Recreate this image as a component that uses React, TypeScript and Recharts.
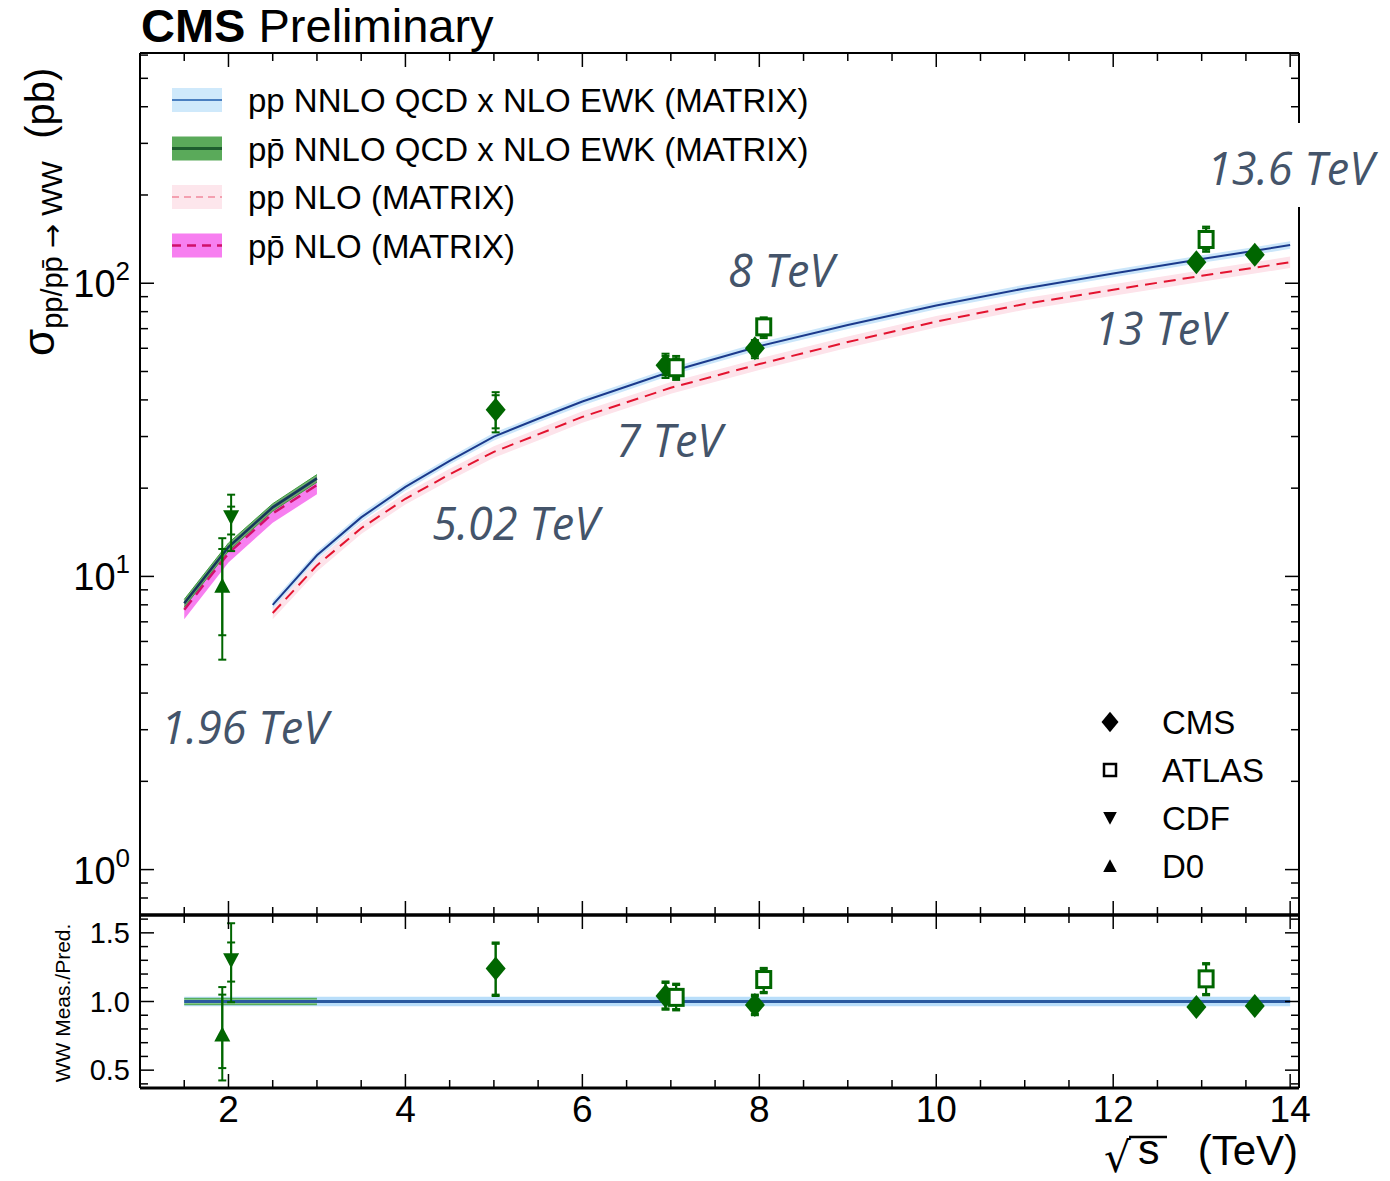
import React from 'react';
import { ComposedChart, Line, Area, Scatter, XAxis, YAxis, ErrorBar } from 'recharts';

// ---------------- data ----------------
// pp theory (MATRIX), sqrt(s) in TeV, cross section in pb
const ppEnergies = [2.5, 3, 3.5, 4, 4.5, 5, 5.5, 6, 7, 8, 9, 10, 11, 12, 13, 13.6, 14];
const ppNNLO = [8.0, 11.8, 15.9, 20.2, 24.8, 30.0, 34.5, 39.5, 50, 61, 72, 84, 96, 108, 121, 129, 135];
const ppNNLOLow = [7.75, 11.45, 15.4, 19.6, 24.1, 29.1, 33.5, 38.3, 48.5, 59.2, 69.8, 81.5, 93.1, 104.8, 117.4, 125.1, 131];
const ppNNLOHigh = [8.25, 12.15, 16.4, 20.8, 25.5, 30.9, 35.5, 40.7, 51.5, 62.8, 74.2, 86.5, 98.9, 111.2, 124.6, 132.9, 139];
const ppNLO = [7.5, 10.9, 14.6, 18.4, 22.3, 26.6, 30.5, 35, 44, 53, 63, 74, 85, 95, 106, 113, 118];
const ppNLOLow = [7.15, 10.4, 13.95, 17.6, 21.3, 25.4, 29.1, 33.4, 42, 50.6, 60.2, 70.7, 81.2, 90.7, 101.2, 107.9, 112.7];
const ppNLOHigh = [7.85, 11.4, 15.25, 19.2, 23.3, 27.8, 31.9, 36.6, 46, 55.4, 65.8, 77.3, 88.8, 99.3, 110.8, 118.1, 123.3];

// ppbar theory
const ppbarEnergies = [1.5, 2, 2.5, 3];
const ppbarNNLO = [8.1, 12.6, 17.2, 21.6];
const ppbarNNLOLow = [7.85, 12.2, 16.7, 20.95];
const ppbarNNLOHigh = [8.35, 13.0, 17.7, 22.25];
const ppbarNLO = [7.7, 12.0, 16.4, 20.5];
const ppbarNLOLow = [7.15, 11.15, 15.25, 19.05];
const ppbarNLOHigh = [8.25, 12.85, 17.55, 21.95];

// ratio panel theory bands
const ratioPpEnergies = [1.5, 14];
const ratioPpCentral = [1, 1];
const ratioPpLow = [0.965, 0.965];
const ratioPpHigh = [1.035, 1.035];
const ratioPpbarEnergies = [1.5, 3];
const ratioPpbarLow = [0.977, 0.977];
const ratioPpbarHigh = [1.023, 1.023];

// measurements (plotted positions slightly offset as in the figure)
const cmsEnergies = [5.02, 6.94, 7.95, 12.94, 13.6];
const cmsXsec = [37, 52.5, 60, 118, 125];
const cmsTotLow = [31, 47.5, 55.5, 115.5, 122.5];
const cmsTotHigh = [42.5, 57.5, 64, 120.5, 127.5];
const cmsStatLow = [32, 48.5, 56.5, 116, 123];
const cmsStatHigh = [41.5, 56.5, 63, 120, 127];
const cmsRatio = [1.24, 1.04, 0.975, 0.96, 0.967];
const cmsRatioTotLow = [1.04, 0.94, 0.9, 0.945, 0.952];
const cmsRatioTotHigh = [1.43, 1.146, 1.05, 0.975, 0.982];
const cmsRatioStatLow = [1.05, 0.95, 0.91, 0.95, 0.956];
const cmsRatioStatHigh = [1.42, 1.135, 1.04, 0.97, 0.978];

const atlasEnergies = [7.06, 8.05, 13.05];
const atlasXsec = [51.5, 71, 141];
const atlasTotLow = [46.8, 65, 128];
const atlasTotHigh = [56.5, 76.5, 156];
const atlasStatLow = [47.5, 66, 130];
const atlasStatHigh = [55.5, 75.5, 154];
const atlasRatio = [1.03, 1.16, 1.165];
const atlasRatioTotLow = [0.935, 1.06, 1.045];
const atlasRatioTotHigh = [1.13, 1.245, 1.28];
const atlasRatioStatLow = [0.945, 1.07, 1.055];
const atlasRatioStatHigh = [1.12, 1.235, 1.27];

const cdfEnergies = [2.03];
const cdfXsec = [15.9];
const cdfTotLow = [12.2];
const cdfTotHigh = [19.0];
const cdfStatLow = [13.9];
const cdfStatHigh = [17.3];
const cdfRatio = [1.3];
const cdfRatioTotLow = [0.995];
const cdfRatioTotHigh = [1.57];
const cdfRatioStatLow = [1.145];
const cdfRatioStatHigh = [1.43];

const d0Energies = [1.93];
const d0Xsec = [9.3];
const d0TotLow = [5.2];
const d0TotHigh = [13.5];
const d0StatLow = [6.3];
const d0StatHigh = [12.4];
const d0Ratio = [0.76];
const d0RatioTotLow = [0.425];
const d0RatioTotHigh = [1.105];
const d0RatioStatLow = [0.515];
const d0RatioStatHigh = [1.05];

// ticks / labels
const xMajor = [2, 4, 6, 8, 10, 12, 14];
const xTickLabels = ['2', '4', '6', '8', '10', '12', '14'];
const xMinor = [1, 1.5, 2.5, 3, 3.5, 4.5, 5, 5.5, 6.5, 7, 7.5, 8.5, 9, 9.5, 10.5, 11, 11.5, 12.5, 13, 13.5];
const yMainMajor = [1, 10, 100];
const yMainExponents = ['0', '1', '2'];
const yMainMinor = [0.8, 0.9, 2, 3, 4, 5, 6, 7, 8, 9, 20, 30, 40, 50, 60, 70, 80, 90, 200, 300, 400, 500, 600];
const yRatioMajor = [0.5, 1.0, 1.5];
const yRatioLabels = ['0.5', '1.0', '1.5'];
const yRatioMinor = [0.4, 0.6, 0.7, 0.8, 0.9, 1.1, 1.2, 1.3, 1.4, 1.6];

const theoryLegend = [
  { label: 'pp NNLO QCD x NLO EWK (MATRIX)', band: '#cfe9fb', line: '#4a7fc0', dash: undefined, lw: 2 },
  { label: 'pp\u0304 NNLO QCD x NLO EWK (MATRIX)', band: '#5aaa5a', line: '#1d5e2e', dash: undefined, lw: 3 },
  { label: 'pp NLO (MATRIX)', band: '#fde6ec', line: '#f4a0b0', dash: '7,5', lw: 2 },
  { label: 'pp\u0304 NLO (MATRIX)', band: '#f77ff0', line: '#d0106a', dash: '9,6', lw: 2.5 },
];
const expLegend = [
  { label: 'CMS', marker: 'diamond' },
  { label: 'ATLAS', marker: 'square' },
  { label: 'CDF', marker: 'tdown' },
  { label: 'D0', marker: 'tup' },
];
const energyLabels = [
  { text: '1.96 TeV', x: 161, y: 744 },
  { text: '5.02 TeV', x: 432, y: 540 },
  { text: '7 TeV', x: 616, y: 457 },
  { text: '8 TeV', x: 728, y: 287 },
  { text: '13 TeV', x: 1094, y: 345 },
  { text: '13.6 TeV', x: 1207, y: 185, boxed: true },
];

// ---------------- styling ----------------
const W = 1390;
const H = 1181;
const GREEN = '#006600';
const FONT = "'Liberation Sans', Arial, Helvetica, sans-serif";
const LABEL_COLOR = '#44546a';

// ---------------- helpers ----------------
const bandData = (xs: number[], lo: number[], hi: number[]) => xs.map((x, i) => ({ x, band: [lo[i], hi[i]] }));
const lineData = (xs: number[], ys: number[]) => xs.map((x, i) => ({ x, y: ys[i] }));
const pointData = (xs: number[], ys: number[], tl: number[], th: number[], sl: number[], sh: number[]) =>
  xs.map((x, i) => ({ x, y: ys[i], tot: [ys[i] - tl[i], th[i] - ys[i]], stat: [ys[i] - sl[i], sh[i] - ys[i]] }));

const markerPath = (kind: string, cx: number, cy: number, s: number) => {
  if (kind === 'diamond') return `M${cx},${cy - 12 * s}L${cx + 10 * s},${cy}L${cx},${cy + 12 * s}L${cx - 10 * s},${cy}Z`;
  if (kind === 'tdown') return `M${cx - 8 * s},${cy - 7 * s}L${cx + 8 * s},${cy - 7 * s}L${cx},${cy + 8 * s}Z`;
  if (kind === 'tup') return `M${cx - 8 * s},${cy + 7 * s}L${cx + 8 * s},${cy + 7 * s}L${cx},${cy - 8 * s}Z`;
  return '';
};

const makeShape = (kind: string, color: string) => (props: any) => {
  const { cx, cy } = props;
  if (cx == null || cy == null) return <g />;
  if (kind === 'square') {
    return <rect x={cx - 7} y={cy - 8} width={14} height={16} fill="#fff" stroke={color} strokeWidth={3} />;
  }
  return <path d={markerPath(kind, cx, cy, 1)} fill={color} />;
};

const LogTick = (props: any) => {
  const { x, y, payload } = props;
  const idx = yMainMajor.indexOf(payload.value);
  return (
    <text x={x} y={y + 14} textAnchor="end" fontSize={38} fontFamily={FONT} fill="#000">
      10<tspan dy={-17} fontSize={26}>{yMainExponents[idx]}</tspan>
    </text>
  );
};

const RatioTick = (props: any) => {
  const { x, y, payload } = props;
  const idx = yRatioMajor.findIndex((v) => Math.abs(v - payload.value) < 1e-6);
  return (
    <text x={x} y={y + 10} textAnchor="end" fontSize={29} fontFamily={FONT} fill="#000">
      {yRatioLabels[idx]}
    </text>
  );
};

const XTick = (props: any) => {
  const { x, y, payload } = props;
  const idx = xMajor.indexOf(payload.value);
  return (
    <text x={x} y={y + 34} textAnchor="middle" fontSize={37} fontFamily={FONT} fill="#000">
      {xTickLabels[idx]}
    </text>
  );
};

const EmptyTick = () => <g />;

const tickStroke = { stroke: '#000', strokeWidth: 1.5 };

const xTickAxes = (prefix: string, withBottomLine: boolean, topLineWidth: number, bottomLineWidth: number) => [
  <XAxis key={prefix + 'bM'} xAxisId={prefix + 'bM'} type="number" dataKey="x" domain={[1, 14.1]} allowDataOverflow
    ticks={xMajor} interval={0} orientation="bottom" mirror height={1} tick={EmptyTick} tickSize={14} tickLine={tickStroke}
    axisLine={withBottomLine ? { stroke: '#000', strokeWidth: bottomLineWidth } : false} />,
  <XAxis key={prefix + 'bm'} xAxisId={prefix + 'bm'} type="number" dataKey="x" domain={[1, 14.1]} allowDataOverflow
    ticks={xMinor} interval={0} orientation="bottom" mirror height={1} tick={EmptyTick} tickSize={7} tickLine={tickStroke} axisLine={false} />,
  <XAxis key={prefix + 'tM'} xAxisId={prefix + 'tM'} type="number" dataKey="x" domain={[1, 14.1]} allowDataOverflow
    ticks={xMajor} interval={0} orientation="top" mirror height={1} tick={EmptyTick} tickSize={14} tickLine={tickStroke}
    axisLine={{ stroke: '#000', strokeWidth: topLineWidth }} />,
  <XAxis key={prefix + 'tm'} xAxisId={prefix + 'tm'} type="number" dataKey="x" domain={[1, 14.1]} allowDataOverflow
    ticks={xMinor} interval={0} orientation="top" mirror height={1} tick={EmptyTick} tickSize={7} tickLine={tickStroke} axisLine={false} />,
];

const yTickAxes = (prefix: string, domain: number[], major: number[], minor: number[], log: boolean) => {
  const common: any = { type: 'number', domain, allowDataOverflow: true, interval: 0, mirror: true, width: 1, tick: EmptyTick };
  if (log) common.scale = 'log';
  return [
    <YAxis key={prefix + 'lM'} yAxisId={prefix + 'lM'} {...common} orientation="left" ticks={major} tickSize={14} tickLine={tickStroke} axisLine={false} />,
    <YAxis key={prefix + 'lm'} yAxisId={prefix + 'lm'} {...common} orientation="left" ticks={minor} tickSize={7} tickLine={tickStroke} axisLine={false} />,
    <YAxis key={prefix + 'rM'} yAxisId={prefix + 'rM'} {...common} orientation="right" ticks={major} tickSize={14} tickLine={tickStroke}
      axisLine={{ stroke: '#000', strokeWidth: 2 }} />,
    <YAxis key={prefix + 'rm'} yAxisId={prefix + 'rm'} {...common} orientation="right" ticks={minor} tickSize={7} tickLine={tickStroke} axisLine={false} />,
  ];
};

// ---------------- derived series ----------------
const ppNNLOBand = bandData(ppEnergies, ppNNLOLow, ppNNLOHigh);
const ppNLOBand = bandData(ppEnergies, ppNLOLow, ppNLOHigh);
const ppbarNNLOBand = bandData(ppbarEnergies, ppbarNNLOLow, ppbarNNLOHigh);
const ppbarNLOBand = bandData(ppbarEnergies, ppbarNLOLow, ppbarNLOHigh);
const ppNNLOLine = lineData(ppEnergies, ppNNLO);
const ppNLOLine = lineData(ppEnergies, ppNLO);
const ppbarNNLOLine = lineData(ppbarEnergies, ppbarNNLO);
const ppbarNLOLine = lineData(ppbarEnergies, ppbarNLO);

const cmsPts = pointData(cmsEnergies, cmsXsec, cmsTotLow, cmsTotHigh, cmsStatLow, cmsStatHigh);
const atlasPts = pointData(atlasEnergies, atlasXsec, atlasTotLow, atlasTotHigh, atlasStatLow, atlasStatHigh);
const cdfPts = pointData(cdfEnergies, cdfXsec, cdfTotLow, cdfTotHigh, cdfStatLow, cdfStatHigh);
const d0Pts = pointData(d0Energies, d0Xsec, d0TotLow, d0TotHigh, d0StatLow, d0StatHigh);

const cmsRatioPts = pointData(cmsEnergies, cmsRatio, cmsRatioTotLow, cmsRatioTotHigh, cmsRatioStatLow, cmsRatioStatHigh);
const atlasRatioPts = pointData(atlasEnergies, atlasRatio, atlasRatioTotLow, atlasRatioTotHigh, atlasRatioStatLow, atlasRatioStatHigh);
const cdfRatioPts = pointData(cdfEnergies, cdfRatio, cdfRatioTotLow, cdfRatioTotHigh, cdfRatioStatLow, cdfRatioStatHigh);
const d0RatioPts = pointData(d0Energies, d0Ratio, d0RatioTotLow, d0RatioTotHigh, d0RatioStatLow, d0RatioStatHigh);

const ratioPpBand = bandData(ratioPpEnergies, ratioPpLow, ratioPpHigh);
const ratioPpbarBand = bandData(ratioPpbarEnergies, ratioPpbarLow, ratioPpbarHigh);
const ratioPpLine = lineData(ratioPpEnergies, ratioPpCentral);

const renderPoints = (pts: any[], kind: string, yId: string) => (
  <Scatter key={kind + yId} xAxisId="x" yAxisId={yId} data={pts} dataKey="y" shape={makeShape(kind, GREEN)} isAnimationActive={false}>
    <ErrorBar dataKey="tot" direction="y" width={4} stroke={GREEN} strokeWidth={2} />
    <ErrorBar dataKey="stat" direction="y" width={4} stroke={GREEN} strokeWidth={2} />
  </Scatter>
);

export default function App() {
  return (
    <div style={{ position: 'absolute', left: 0, top: 0, width: W, height: H, background: '#fff', overflow: 'hidden' }}>
      {/* main panel */}
      <div style={{ position: 'absolute', left: 0, top: 0 }}>
        <ComposedChart width={W} height={H} margin={{ top: 53, right: 91, bottom: 266, left: 0 }}>
          <XAxis xAxisId="x" type="number" dataKey="x" domain={[1, 14.1]} allowDataOverflow hide />
          {xTickAxes('m', true, 2, 3)}
          <YAxis yAxisId="y" type="number" scale="log" domain={[0.7, 610]} allowDataOverflow ticks={yMainMajor} interval={0}
            width={140} tickLine={false} tickSize={0} tickMargin={10} tick={LogTick} axisLine={{ stroke: '#000', strokeWidth: 2 }} />
          {yTickAxes('my', [0.7, 610], yMainMajor, yMainMinor, true)}

          <Area xAxisId="x" yAxisId="y" data={ppNLOBand} dataKey="band" type="linear" stroke="none" fill="#fde3ea" fillOpacity={1} isAnimationActive={false} />
          <Area xAxisId="x" yAxisId="y" data={ppNNLOBand} dataKey="band" type="linear" stroke="none" fill="#cbe6fa" fillOpacity={1} isAnimationActive={false} />
          <Line xAxisId="x" yAxisId="y" data={ppNLOLine} dataKey="y" type="linear" stroke="#e3132f" strokeWidth={2} strokeDasharray="12 7" dot={false} isAnimationActive={false} />
          <Line xAxisId="x" yAxisId="y" data={ppNNLOLine} dataKey="y" type="linear" stroke="#1b3a8c" strokeWidth={2} dot={false} isAnimationActive={false} />

          <Area xAxisId="x" yAxisId="y" data={ppbarNLOBand} dataKey="band" type="linear" stroke="none" fill="#f77ff0" fillOpacity={1} isAnimationActive={false} />
          <Area xAxisId="x" yAxisId="y" data={ppbarNNLOBand} dataKey="band" type="linear" stroke="#3f9a3f" strokeWidth={1} fill="#5aaa5a" fillOpacity={0.85} isAnimationActive={false} />
          <Line xAxisId="x" yAxisId="y" data={ppbarNNLOLine} dataKey="y" type="linear" stroke="#14375a" strokeWidth={2.5} dot={false} isAnimationActive={false} />
          <Line xAxisId="x" yAxisId="y" data={ppbarNLOLine} dataKey="y" type="linear" stroke="#d0106a" strokeWidth={2.5} strokeDasharray="12 7" dot={false} isAnimationActive={false} />

          {renderPoints(d0Pts, 'tup', 'y')}
          {renderPoints(cdfPts, 'tdown', 'y')}
          {renderPoints(cmsPts, 'diamond', 'y')}
          {renderPoints(atlasPts, 'square', 'y')}
        </ComposedChart>
      </div>

      {/* ratio panel */}
      <div style={{ position: 'absolute', left: 0, top: 0 }}>
        <ComposedChart width={W} height={H} margin={{ top: 915, right: 91, bottom: 0, left: 0 }}>
          <XAxis xAxisId="x" type="number" dataKey="x" domain={[1, 14.1]} allowDataOverflow ticks={xMajor} interval={0}
            height={93} tickLine={false} tickSize={0} tickMargin={0} tick={XTick} axisLine={{ stroke: '#000', strokeWidth: 3 }} />
          {xTickAxes('r', false, 3, 3)}
          <YAxis yAxisId="y" type="number" domain={[0.37, 1.63]} allowDataOverflow ticks={yRatioMajor} interval={0}
            width={140} tickLine={false} tickSize={0} tickMargin={10} tick={RatioTick} axisLine={{ stroke: '#000', strokeWidth: 2 }} />
          {yTickAxes('ry', [0.37, 1.63], yRatioMajor, yRatioMinor, false)}

          <Area xAxisId="x" yAxisId="y" data={ratioPpBand} dataKey="band" type="linear" stroke="none" fill="#b9defa" fillOpacity={1} isAnimationActive={false} />
          <Area xAxisId="x" yAxisId="y" data={ratioPpbarBand} dataKey="band" type="linear" stroke="#4fa84f" strokeWidth={1} fill="#7cc47c" fillOpacity={0.9} isAnimationActive={false} />
          <Line xAxisId="x" yAxisId="y" data={ratioPpLine} dataKey="y" type="linear" stroke="#2a5aa0" strokeWidth={3} dot={false} isAnimationActive={false} />

          {renderPoints(d0RatioPts, 'tup', 'y')}
          {renderPoints(cdfRatioPts, 'tdown', 'y')}
          {renderPoints(cmsRatioPts, 'diamond', 'y')}
          {renderPoints(atlasRatioPts, 'square', 'y')}
        </ComposedChart>
      </div>

      {/* texts, legends, annotations */}
      <svg width={W} height={H} style={{ position: 'absolute', left: 0, top: 0, pointerEvents: 'none' }}>
        <text x={141} y={42} fontFamily={FONT} fontSize={47} fill="#000">
          <tspan fontWeight="bold">CMS</tspan> Preliminary
        </text>

        {/* y-axis titles */}
        <text transform="translate(54,356) rotate(-90)" fontFamily={FONT} fill="#000" fontSize={44}>
          σ<tspan fontSize={29} dy={8}>pp/pp̄ </tspan><tspan fontSize={29} fontFamily="'DejaVu Sans', sans-serif">→</tspan><tspan fontSize={29}> WW</tspan><tspan dy={-8} fontSize={40}>{'\u00a0\u00a0(pb)'}</tspan>
        </text>
        <text transform="translate(70,1003) rotate(-90)" fontFamily={FONT} fill="#000" fontSize={21} textAnchor="middle">
          WW Meas./Pred.
        </text>

        {/* x-axis title */}
        <text x={1104} y={1172} fontFamily="'DejaVu Sans', sans-serif" fontSize={42} fill="#000">√</text>
        <line x1={1129} x2={1167} y1={1137} y2={1137} stroke="#000" strokeWidth={2.5} />
        <text x={1138} y={1164} fontFamily={FONT} fontSize={43} fill="#000">s</text>
        <text x={1298} y={1165} textAnchor="end" fontFamily={FONT} fontSize={42} fill="#000">(TeV)</text>

        {/* theory legend */}
        {theoryLegend.map((e, i) => {
          const cy = 100 + i * 48.5;
          return (
            <g key={e.label}>
              <rect x={172} y={cy - 12} width={50} height={24} fill={e.band} />
              <line x1={172} x2={222} y1={cy} y2={cy} stroke={e.line} strokeWidth={e.lw} strokeDasharray={e.dash} />
              <text x={248} y={cy + 12} fontFamily={FONT} fontSize={33} fill="#000">{e.label}</text>
            </g>
          );
        })}

        {/* experiment legend */}
        {expLegend.map((e, i) => {
          const cy = 722 + i * 48;
          return (
            <g key={e.label}>
              {e.marker === 'square' ? (
                <rect x={1104} y={cy - 6} width={12} height={12} fill="#fff" stroke="#000" strokeWidth={2.5} />
              ) : (
                <path d={markerPath(e.marker, 1110, cy, 0.85)} fill="#000" />
              )}
              <text x={1162} y={cy + 12} fontFamily={FONT} fontSize={33} fill="#000">{e.label}</text>
            </g>
          );
        })}

        {/* energy annotations */}
        {energyLabels.map((e) => (
          <g key={e.text}>
            {e.boxed ? <rect x={e.x - 4} y={e.y - 62} width={180} height={84} fill="#fff" /> : null}
            <text x={e.x} y={e.y} fontFamily="'Open Sans', 'Noto Sans', sans-serif" fontStyle="italic" fontSize={45} fill={LABEL_COLOR}>
              {e.text}
            </text>
          </g>
        ))}
      </svg>
    </div>
  );
}
